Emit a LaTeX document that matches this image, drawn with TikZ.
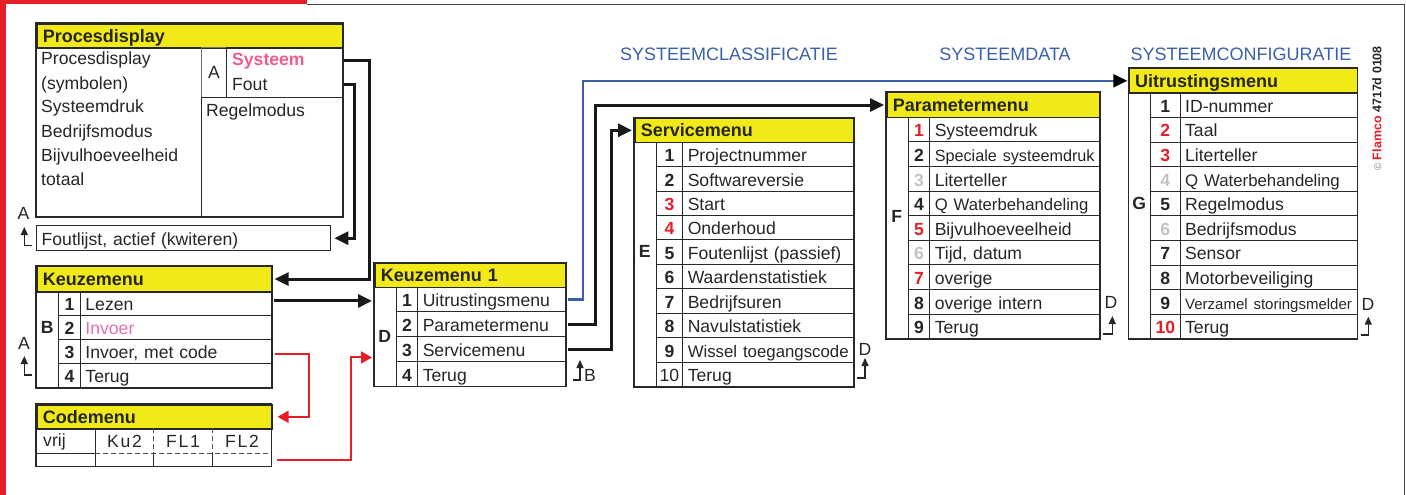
\documentclass[tikz,border=0pt]{standalone}
\usepackage{fontspec}
\setmainfont{Liberation Sans}
\usetikzlibrary{arrows.meta,calc}
\definecolor{hdryellow}{RGB}{241,234,24}
\definecolor{redc}{RGB}{230,30,40}
\definecolor{pinkc}{RGB}{236,92,140}
\definecolor{invoerc}{RGB}{224,112,178}
\definecolor{greyn}{RGB}{195,195,195}
\definecolor{bluec}{RGB}{58,96,172}
\definecolor{txtc}{RGB}{38,38,38}
\definecolor{linec}{RGB}{40,40,40}
\definecolor{framec}{RGB}{70,70,70}
\newcommand\bodyfs{\fontsize{17.6}{20}\selectfont}
\newcommand\hdrfs{\bfseries\fontsize{18}{20}\selectfont}
\newcommand\tabdef[8]{%
  \def\tN{#1}\def\tL{#2}\def\tT{#3}\def\tHB{#4}\def\tR{#5}\def\tLC{#6}\def\tNC{#7}\def\tRH{#8}%
  \pgfmathsetmacro\tHH{#4-#3}\pgfmathsetmacro\tHTW{#5-#2-12}%
  \pgfmathsetmacro\tTW{#5-#7-10}\pgfmathsetmacro\tNWd{#7-#6}\pgfmathsetmacro\tLWd{#6-#2}}
\newcommand\theader[1]{%
  \node[hdr, minimum height=\tHH pt, text width=\tHTW pt] (\tN) at (\tL,\tT) {#1};}
\newcommand\trow[4]{%
  \pgfmathsetmacro\ry{\tHB+(#1-1)*\tRH}%
  \node[numcell, minimum width=\tNWd pt, minimum height=\tRH pt, #2] (\tN-n#1) at (\tLC,\ry) {#3};%
  \node[txtcell, minimum height=\tRH pt, text width=\tTW pt] (\tN-#1) at (\tNC,\ry) {#4};}
\newcommand\tletter[3]{%
  \pgfmathsetmacro\lh{#2*\tRH}\pgfmathsetmacro\ly{\tHB+(#3-0.5)*\tRH}\pgfmathsetmacro\lx{(\tL+\tLC)/2}%
  \node[cell, minimum width=\tLWd pt, minimum height=\lh pt] (\tN-L) at (\tL,\tHB) {};%
  \node[lettertxt] (\tN-letter) at (\lx,\ly) {#1};}
\newcommand\tborder[1]{\draw[outer] (\tN.north west) rectangle (\tN-#1.south east);}
\newcommand\retsym[4]{\draw[retl] (#1,#2) -- (#3,#2) -- (#3,#4);}
\tikzset{
  cell/.style={draw=linec, line width=0.9pt, inner sep=0pt, anchor=north west},
  hdr/.style={draw=linec, line width=1.6pt, fill=hdryellow, anchor=north west, inner xsep=6pt, inner ysep=0pt, align=left, font=\hdrfs, text=txtc, text height=12.6pt, text depth=0pt},
  numcell/.style={cell, font=\bfseries\bodyfs, text=txtc, text height=14.6pt, text depth=0pt},
  numred/.style={text=redc},
  numgrey/.style={text=greyn},
  numplain/.style={font=\bodyfs},
  txtcell/.style={cell, inner xsep=5pt, inner ysep=0pt, align=left, font=\bodyfs, text=txtc, text height=14.6pt, text depth=0pt},
  lettertxt/.style={font=\bfseries\bodyfs, text=txtc, inner sep=0pt},
  btxt/.style={font=\bodyfs, text=txtc, inner sep=0pt, anchor=base west},
  lbl/.style={font=\bodyfs, text=txtc, inner sep=0pt},
  ctxt/.style={font=\bodyfs\addfontfeatures{LetterSpace=10}, text=txtc, inner sep=0pt, anchor=base},
  outer/.style={draw=linec, line width=1.6pt},
  innerl/.style={draw=linec, line width=0.9pt},
  innerdash/.style={draw=linec!80, line width=0.9pt, dash pattern=on 5pt off 3pt},
  conn/.style={draw=black!90, line width=3pt, -{Triangle[length=14pt,width=13pt]}},
  redconn/.style={draw=redc, line width=2pt, -{Triangle[length=11pt,width=12pt]}},
  blueconn/.style={draw=bluec, line width=2.5pt, -{Triangle[length=14pt,width=13pt,color=black]}},
  retl/.style={draw=txtc, line width=1.5pt, -{Triangle[length=8pt,width=7pt]}},
  title/.style={font=\fontsize{18}{20}\selectfont, text=bluec, inner sep=0pt, anchor=base},
}
\begin{document}
\begin{tikzpicture}[x=1pt,y=-1pt]
\useasboundingbox (0,0) rectangle (1406,495);
% frame
\fill[redc] (0,0) rectangle (6,495);
\fill[redc] (0,0) rectangle (307,4);
\draw[framec, line width=1.4pt] (307,4.3) -- (1404.3,4.3) -- (1404.3,495);

% Procesdisplay
\node[hdr, minimum height=24pt, text width=294pt] (pd) at (36,23) {Procesdisplay};
\node[cell, minimum width=165pt, minimum height=169pt] (pdL) at (36,47) {};
\node[cell, minimum width=25pt, minimum height=50pt, draw=black!55] (pdA) at (201,47) {};
\node[cell, minimum width=116pt, minimum height=50pt] (pdS) at (226,47) {};
\node[cell, minimum width=141pt, minimum height=119pt] (pdR) at (201,97) {};
\draw[outer] (pd.north west) rectangle (pdR.south east);
\node[btxt] (pdt1) at (41,65) {Procesdisplay};
\node[btxt] (pdt2) at (41,89) {(symbolen)};
\node[btxt] (pdt3) at (41,113) {Systeemdruk};
\node[btxt] (pdt4) at (41,137) {Bedrijfsmodus};
\node[btxt] (pdt5) at (41,161) {Bijvulhoeveelheid};
\node[btxt] (pdt6) at (41,185) {totaal};
\node[btxt, anchor=base] (pdta) at (214,79) {A};
\node[btxt, font=\bfseries\bodyfs, text=pinkc] (pdsys) at (232,66) {Systeem};
\node[btxt] (pdfout) at (232,90) {Fout};
\node[btxt] (pdreg) at (206,117) {Regelmodus};

% Foutlijst
\node[txtcell, line width=1.4pt, minimum height=25pt, text width=284pt] (fl) at (36,225) {Foutlijst, actief (kwiteren)};

% Keuzemenu
\tabdef{km}{36}{265.5}{291}{271}{58.3}{80}{24}
\theader{Keuzemenu}
\tletter{B}{4}{2}
\trow{1}{}{1}{Lezen}
\trow{2}{}{2}{\textcolor{invoerc}{Invoer}}
\trow{3}{}{3}{Invoer, met code}
\trow{4}{}{4}{Terug}
\tborder{4}

% Codemenu
\node[hdr, minimum height=24pt, text width=223pt] (cm) at (36,404) {Codemenu};
\node[inner sep=0pt, anchor=north west, minimum width=235pt, minimum height=13pt] (cmb) at (36,453) {};
\node[btxt] (cvrij) at (43,446) {vrij};
\node[ctxt] (cku) at (124.5,447) {Ku2};
\node[ctxt] (cfl1) at (183,447) {FL1};
\node[ctxt] (cfl2) at (242,447) {FL2};
\draw[innerl] (95,428) -- (95,466);
\draw[innerl] (36,453) -- (95,453);
\draw[innerdash] (95,453) -- (271,453);
\draw[innerdash] (153.5,428) -- (153.5,453);
\draw[innerl] (153.5,453) -- (153.5,466);
\draw[innerdash] (212.5,428) -- (212.5,453);
\draw[innerl] (212.5,453) -- (212.5,466);
\draw[outer] (cm.north west) rectangle (cmb.south east);

% Keuzemenu 1
\tabdef{kmi}{374}{262.7}{286.7}{565}{395.7}{417.3}{24.75}
\theader{Keuzemenu 1}
\tletter{D}{4}{2.52}
\trow{1}{}{1}{Uitrustingsmenu}
\trow{2}{}{2}{Parametermenu}
\trow{3}{}{3}{Servicemenu}
\trow{4}{}{4}{Terug}
\tborder{4}

% Servicemenu
\tabdef{svc}{634}{117.3}{141.7}{853.3}{655.7}{682.3}{24.43}
\theader{Servicemenu}
\tletter{E}{10}{5}
\trow{1}{}{1}{Projectnummer}
\trow{2}{}{2}{Softwareversie}
\trow{3}{numred}{3}{Start}
\trow{4}{numred}{4}{Onderhoud}
\trow{5}{}{5}{Foutenlijst (passief)}
\trow{6}{}{6}{Waardenstatistiek}
\trow{7}{}{7}{Bedrijfsuren}
\trow{8}{}{8}{Navulstatistiek}
\trow{9}{}{9}{\mbox{\fontsize{16.8}{18}\selectfont Wissel toegangscode}}
\trow{10}{numplain}{10}{Terug}
\tborder{10}

% Parametermenu
\tabdef{par}{886}{91.7}{116.7}{1099.3}{907.7}{929.3}{24.62}
\theader{Parametermenu}
\tletter{F}{9}{4.56}
\trow{1}{numred}{1}{Systeemdruk}
\trow{2}{}{2}{\mbox{\fontsize{16.2}{18}\selectfont Speciale systeemdruk}}
\trow{3}{numgrey}{3}{Literteller}
\trow{4}{}{4}{\mbox{\fontsize{16.7}{18}\selectfont Q Waterbehandeling}}
\trow{5}{numred}{5}{Bijvulhoeveelheid}
\trow{6}{numgrey}{6}{Tijd, datum}
\trow{7}{numred}{7}{overige}
\trow{8}{}{8}{overige intern}
\trow{9}{}{9}{Terug}
\tborder{9}

% Uitrustingsmenu
\tabdef{uit}{1128.3}{67.7}{92.3}{1356.7}{1150}{1179.7}{24.6}
\theader{Uitrustingsmenu}
\tletter{G}{10}{5}
\trow{1}{}{1}{ID-nummer}
\trow{2}{numred}{2}{Taal}
\trow{3}{numred}{3}{Literteller}
\trow{4}{numgrey}{4}{\mbox{\fontsize{16.8}{18}\selectfont Q Waterbehandeling}}
\trow{5}{}{5}{Regelmodus}
\trow{6}{numgrey}{6}{Bedrijfsmodus}
\trow{7}{}{7}{Sensor}
\trow{8}{}{8}{Motorbeveiliging}
\trow{9}{}{9}{\mbox{\fontsize{15}{18}\selectfont Verzamel storingsmelder}}
\trow{10}{numred}{10}{Terug}
\tborder{10}

% titles
\node[title] (t1) at (729,61) {SYSTEEMCLASSIFICATIE};
\node[title] (t2) at (1005,61) {SYSTEEMDATA};
\node[title] (t3) at (1241,61) {SYSTEEMCONFIGURATIE};
\node[rotate=90, font=\bfseries\fontsize{12.5}{14}\selectfont, text=txtc, inner sep=0pt] (copy) at (1377,108.5)
  {{\mdseries\color{gray}\fontsize{10}{12}\selectfont ©}\ {\color{redc}Flamco}\ 4717d 0108};

% connectors
\coordinate (sysout) at ($(pdS.north east)+(1,14)$);
\coordinate (fouout) at ($(pdS.north east)+(1,38)$);
\draw[conn] (sysout) -- ++(26,0) |- ([xshift=2pt]km.east);
\draw[conn] (fouout) -- ++(11,0) |- ([xshift=3pt]fl.east);
\coordinate (k1a) at ([xshift=2pt,yshift=2.5pt]km-1.east);
\draw[conn, shorten >=2pt] (k1a) -- (k1a -| kmi-L.west);
\draw[redconn] ([xshift=3pt,yshift=-2.5pt]km-3.east) -- ++(34,0) |- ([xshift=5pt]cm.east);
\draw[redconn] ([xshift=6pt]cmb.east) -- ++(74,0) |- ($(kmi-L.west)+(-2,20.8)$);
\draw[blueconn] ([xshift=2pt]kmi-1.east) -- ++(15,0) |- ([xshift=-1pt]uit.west);
\draw[conn] ([xshift=2pt]kmi-2.east) -- ++(28,0) |- ([xshift=-2pt]par.west);
\draw[conn] ([xshift=2pt]kmi-3.east) -- ++(44,0) |- ([xshift=-2pt]svc.west);

% return markers
\node[lbl] (rA1) at (23.5,213.5) {A};
\retsym{32.3}{245.7}{24.3}{227}
\node[lbl] (rA2) at (24,343.5) {A};
\retsym{32.3}{375}{24.3}{356}
\node[lbl] (rB) at (590,375.3) {B};
\retsym{573.3}{380}{580}{360}
\node[lbl] (rD1) at (865,349) {D};
\retsym{856.7}{378}{865}{358}
\node[lbl] (rD2) at (1111,302.5) {D};
\retsym{1103.3}{334}{1112.3}{316}
\node[lbl] (rD3) at (1368,304) {D};
\retsym{1360.7}{335}{1368.3}{316.7}
\end{tikzpicture}
\end{document}
